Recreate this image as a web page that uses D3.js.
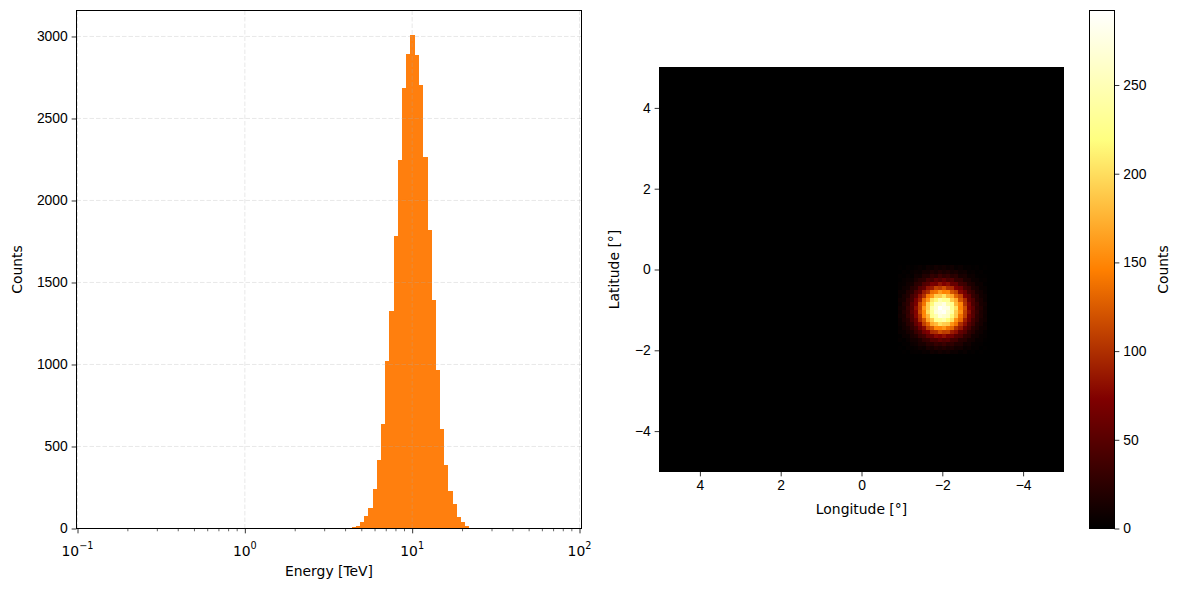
<!DOCTYPE html>
<html>
<head>
<meta charset="utf-8">
<script src="https://cdn.jsdelivr.net/npm/d3@7"></script>
<style>
  body { margin: 0; background: #fff; }
  svg { display: block; font-family: "DejaVu Sans", sans-serif; }
  .tick-label { font-size: 13.9px; fill: #000; }
  .axis-label { font-size: 13.9px; fill: #000; }
</style>
</head>
<body>
<div id="chart"></div>
<script>
// histogram of event energies (log bins, TeV)
const energyEdges = [4.354, 4.612, 4.885, 5.174, 5.480, 5.805, 6.149, 6.513, 6.898, 7.307,
  7.739, 8.197, 8.683, 9.197, 9.741, 10.318, 10.929, 11.576, 12.262, 12.988,
  13.757, 14.572, 15.435, 16.349, 17.317, 18.343, 19.429, 20.580, 21.798, 23.089, 24.456];
const energyCounts = [8, 14, 39, 75, 124, 240, 417, 636, 1020, 1325,
  1783, 2246, 2685, 2892, 3008, 2886, 2703, 2264, 1819, 1392,
  965, 606, 386, 228, 148, 69, 39, 14, 6, 4];
const energyTicks = [0.1, 1, 10, 100];
const energyTickExp = ["\u22121", "0", "1", "2"];
const countTicks = [0, 500, 1000, 1500, 2000, 2500, 3000];

// counts map, 100 x 100 pixels over lon 5..-5, lat 5..-5
const mapBins = 100;
const lonRange = [5, -5];
const latRange = [5, -5];
const lonTicks = [4, 2, 0, -2, -4];
const latTicks = [4, 2, 0, -2, -4];
const colorbarTicks = [0, 50, 100, 150, 200, 250];
// nonzero part of the map: rows 49..70, columns 59..80
const blobRowStart = 49;
const blobColStart = 59;
const blobCounts = [
  [1,0,2,1,3,5,3,8,6,11,8, 10,7,9,4,6,2,3,1,2,0,1],
  [0,2,1,4,6,5,11,10,17,13,20, 15,18,12,14,8,9,3,4,1,2,0],
  [2,1,4,3,10,9,19,18,29,24,35, 27,31,22,25,13,14,6,7,2,1,1],
  [1,4,6,7,15,22,24,39,37,52,45, 55,43,46,30,29,16,15,7,6,2,3],
  [3,4,9,11,24,27,45,50,70,66,83, 72,79,59,58,37,33,18,15,6,6,1],
  [3,8,10,21,27,48,55,83,88,112,106, 119,99,97,72,64,40,33,17,13,5,4],
  [6,7,18,24,44,56,88,99,134,139,161, 147,150,121,110,77,63,38,29,14,10,4],
  [5,13,19,37,50,81,100,141,157,190,188, 204,177,168,129,111,72,57,31,23,10,7],
  [9,12,27,38,68,89,133,158,203,215,245, 229,230,189,170,121,97,60,44,22,15,6],
  [7,18,26,49,69,110,139,190,216,259,262, 276,245,229,178,150,101,75,43,30,14,10],
  [10,15,32,46,80,108,158,191,242,263,292, 279,274,231,201,147,116,73,52,27,19,8],
  [8,19,28,52,74,115,149,200,233,271,281, 288,262,240,190,156,109,80,47,31,16,9],
  [10,14,30,44,75,101,150,179,228,246,273, 264,257,216,188,139,108,69,49,26,17,8],
  [7,16,23,43,61,97,122,168,190,228,232, 242,217,201,157,132,90,66,39,27,13,9],
  [6,11,22,31,56,74,109,130,169,180,201, 191,188,158,139,100,80,50,36,19,13,5],
  [4,10,15,28,39,63,79,110,122,149,148, 158,138,131,101,86,57,43,24,17,8,6],
  [5,6,13,17,32,41,64,73,97,100,117, 108,110,89,81,56,47,28,21,10,8,3],
  [1,6,7,15,19,33,38,56,60,77,73, 81,68,67,49,44,27,23,11,9,4,3],
  [3,1,5,10,11,17,28,31,44,43,53, 46,50,37,36,23,21,12,10,4,4,1],
  [0,2,2,6,8,14,14,23,22,31,27, 33,25,27,18,18,9,10,4,3,2,0],
  [1,0,3,2,4,8,6,14,12,18,15, 19,14,16,10,11,5,6,2,3,0,1],
  [0,1,0,2,3,2,5,4,9,7,11, 8,10,6,7,3,5,1,2,0,1,0]
];

const width = 1180, height = 590;
const hist = {left: 76.5, right: 581.5, top: 10.5, bottom: 528.5, x0: 77.5, x1: 579.5};
const map = {left: 659.5, right: 1063.5, top: 67.5, bottom: 471.5};
const cbar = {left: 1089.5, right: 1114.5, top: 10.5, bottom: 528.5};
const barColor = "#ff7f0e";
const tickLen = 4.86, tickPad = 4.86;

const svg = d3.select("#chart").append("svg")
  .attr("width", width)
  .attr("height", height);

// ---------- left: energy histogram ----------
const x = d3.scaleLog().domain([0.1, 100]).range([hist.x0, hist.x1]);
const y = d3.scaleLinear()
  .domain([0, d3.max(energyCounts) * 1.05])
  .range([hist.bottom, hist.top]);

const bins = energyCounts.map((c, i) => ({x0: energyEdges[i], x1: energyEdges[i + 1], count: c}));

svg.append("g")
  .attr("shape-rendering", "crispEdges")
  .selectAll("rect")
  .data(bins)
  .enter()
    .append("rect")
    .attr("x", d => x(d.x0))
    .attr("width", d => x(d.x1) - x(d.x0) + 0.6)
    .attr("y", d => y(d.count))
    .attr("height", d => y(0) - y(d.count))
    .style("fill", barColor);

// dashed grid on top of bars
const grid = svg.append("g")
  .style("stroke", "#b0b0b0")
  .style("stroke-opacity", 0.35)
  .style("stroke-width", 0.8)
  .style("stroke-dasharray", "4.5,2");
grid.selectAll("line.gx")
  .data(energyTicks)
  .enter().append("line")
    .attr("x1", d => x(d)).attr("x2", d => x(d))
    .attr("y1", hist.top).attr("y2", hist.bottom);
grid.selectAll("line.gy")
  .data(countTicks)
  .enter().append("line")
    .attr("x1", hist.left).attr("x2", hist.right)
    .attr("y1", d => y(d)).attr("y2", d => y(d));

const xAxis = d3.axisBottom(x)
  .tickValues(energyTicks)
  .tickSize(tickLen)
  .tickFormat("");
svg.append("g")
  .attr("transform", `translate(0,${hist.bottom})`)
  .call(xAxis)
  .call(g => g.select(".domain").remove())
  .call(g => g.selectAll(".tick line").attr("stroke-width", 0.8));

// minor ticks
const minorTicks = x.ticks().filter(v => energyTicks.indexOf(v) < 0);
svg.append("g")
  .selectAll("line")
  .data(minorTicks)
  .enter().append("line")
    .attr("x1", d => x(d)).attr("x2", d => x(d))
    .attr("y1", hist.bottom).attr("y2", hist.bottom + 2.78)
    .style("stroke", "#000")
    .style("stroke-width", 0.6);

const xLabels = svg.append("g")
  .selectAll("text")
  .data(energyTicks)
  .enter().append("text")
    .attr("class", "tick-label")
    .attr("x", d => x(d))
    .attr("y", hist.bottom + 27)
    .attr("text-anchor", "middle");
xLabels.append("tspan").text("10");
xLabels.append("tspan")
  .attr("dy", -6.5)
  .style("font-size", "9.7px")
  .text((d, i) => energyTickExp[i]);

const yAxis = d3.axisLeft(y)
  .tickValues(countTicks)
  .tickSize(tickLen)
  .tickPadding(tickPad - 1)
  .tickFormat(d3.format("d"));
svg.append("g")
  .attr("transform", `translate(${hist.left},0)`)
  .call(yAxis)
  .call(g => g.select(".domain").remove())
  .call(g => g.selectAll(".tick line").attr("stroke-width", 0.8))
  .call(g => g.selectAll(".tick text")
    .attr("class", "tick-label")
    .attr("font-family", null)
    .attr("font-size", null));

svg.append("rect")
  .attr("x", hist.left).attr("y", hist.top)
  .attr("width", hist.right - hist.left)
  .attr("height", hist.bottom - hist.top)
  .style("fill", "none")
  .style("stroke", "#000")
  .style("stroke-width", 1);

svg.append("text")
  .attr("class", "axis-label")
  .attr("x", (hist.left + hist.right) / 2)
  .attr("y", 576)
  .attr("text-anchor", "middle")
  .text("Energy [TeV]");
svg.append("text")
  .attr("class", "axis-label")
  .attr("transform", `translate(22,${(hist.top + hist.bottom) / 2}) rotate(-90)`)
  .attr("text-anchor", "middle")
  .text("Counts");

// ---------- right: counts map ----------
const mapCounts = d3.range(mapBins).map(() => d3.range(mapBins).map(() => 0));
blobCounts.forEach((row, r) => row.forEach((v, c) => {
  mapCounts[blobRowStart + r][blobColStart + c] = v;
}));

const lon = d3.scaleLinear().domain(lonRange).range([map.left, map.right]);
const lat = d3.scaleLinear().domain(latRange).range([map.top, map.bottom]);
const cellLon = d3.scaleLinear().domain([0, mapBins]).range(lonRange);
const cellLat = d3.scaleLinear().domain([0, mapBins]).range(latRange);

const vmax = d3.max(mapCounts, row => d3.max(row));
// afmhot colormap
const cmapStops = [0, 0.25, 0.5, 0.75, 1];
const cmapColors = ["#000000", "#800000", "#ff8000", "#ffff80", "#ffffff"];
const color = d3.scaleLinear()
  .domain(cmapStops.map(s => s * vmax))
  .range(cmapColors)
  .interpolate(d3.interpolateRgb)
  .clamp(true);

const cells = [];
mapCounts.forEach((row, r) => row.forEach((v, c) => cells.push({r, c, v})));

svg.append("g")
  .attr("shape-rendering", "crispEdges")
  .selectAll("rect")
  .data(cells)
  .enter()
    .append("rect")
    .attr("x", d => lon(cellLon(d.c)))
    .attr("y", d => lat(cellLat(d.r)))
    .attr("width", d => lon(cellLon(d.c + 1)) - lon(cellLon(d.c)) + 0.5)
    .attr("height", d => lat(cellLat(d.r + 1)) - lat(cellLat(d.r)) + 0.5)
    .style("fill", d => color(d.v));

const fmtMinus = d => d < 0 ? "\u2212" + Math.abs(d) : String(d);

svg.append("g")
  .attr("transform", `translate(0,${map.bottom})`)
  .call(d3.axisBottom(lon).tickValues(lonTicks).tickSize(tickLen).tickPadding(tickPad - 1).tickFormat(fmtMinus))
  .call(g => g.select(".domain").remove())
  .call(g => g.selectAll(".tick line").attr("stroke-width", 0.8))
  .call(g => g.selectAll(".tick text").attr("class", "tick-label").attr("font-family", null).attr("font-size", null));

svg.append("g")
  .attr("transform", `translate(${map.left},0)`)
  .call(d3.axisLeft(lat).tickValues(latTicks).tickSize(tickLen).tickPadding(tickPad - 1).tickFormat(fmtMinus))
  .call(g => g.select(".domain").remove())
  .call(g => g.selectAll(".tick line").attr("stroke-width", 0.8))
  .call(g => g.selectAll(".tick text").attr("class", "tick-label").attr("font-family", null).attr("font-size", null));

svg.append("rect")
  .attr("x", map.left).attr("y", map.top)
  .attr("width", map.right - map.left)
  .attr("height", map.bottom - map.top)
  .style("fill", "none")
  .style("stroke", "#000")
  .style("stroke-width", 1);

svg.append("text")
  .attr("class", "axis-label")
  .attr("x", (map.left + map.right) / 2)
  .attr("y", 514)
  .attr("text-anchor", "middle")
  .text("Longitude [\u00b0]");
svg.append("text")
  .attr("class", "axis-label")
  .attr("transform", `translate(619,${(map.top + map.bottom) / 2}) rotate(-90)`)
  .attr("text-anchor", "middle")
  .text("Latitude [\u00b0]");

// ---------- colorbar ----------
const grad = svg.append("defs").append("linearGradient")
  .attr("id", "cbar-grad")
  .attr("x1", 0).attr("y1", 1).attr("x2", 0).attr("y2", 0);
grad.selectAll("stop")
  .data(cmapStops)
  .enter().append("stop")
    .attr("offset", d => d)
    .attr("stop-color", (d, i) => cmapColors[i]);

const cbarScale = d3.scaleLinear().domain([0, vmax]).range([cbar.bottom, cbar.top]);

svg.append("rect")
  .attr("x", cbar.left).attr("y", cbar.top)
  .attr("width", cbar.right - cbar.left)
  .attr("height", cbar.bottom - cbar.top)
  .style("fill", "url(#cbar-grad)")
  .style("stroke", "#000")
  .style("stroke-width", 1);

svg.append("g")
  .attr("transform", `translate(${cbar.right},0)`)
  .call(d3.axisRight(cbarScale).tickValues(colorbarTicks).tickSize(tickLen).tickPadding(tickPad - 1))
  .call(g => g.select(".domain").remove())
  .call(g => g.selectAll(".tick line").attr("stroke-width", 0.8))
  .call(g => g.selectAll(".tick text").attr("class", "tick-label").attr("font-family", null).attr("font-size", null));

svg.append("text")
  .attr("class", "axis-label")
  .attr("transform", `translate(1168,${(cbar.top + cbar.bottom) / 2}) rotate(-90)`)
  .attr("text-anchor", "middle")
  .text("Counts");
</script>
</body>
</html>
